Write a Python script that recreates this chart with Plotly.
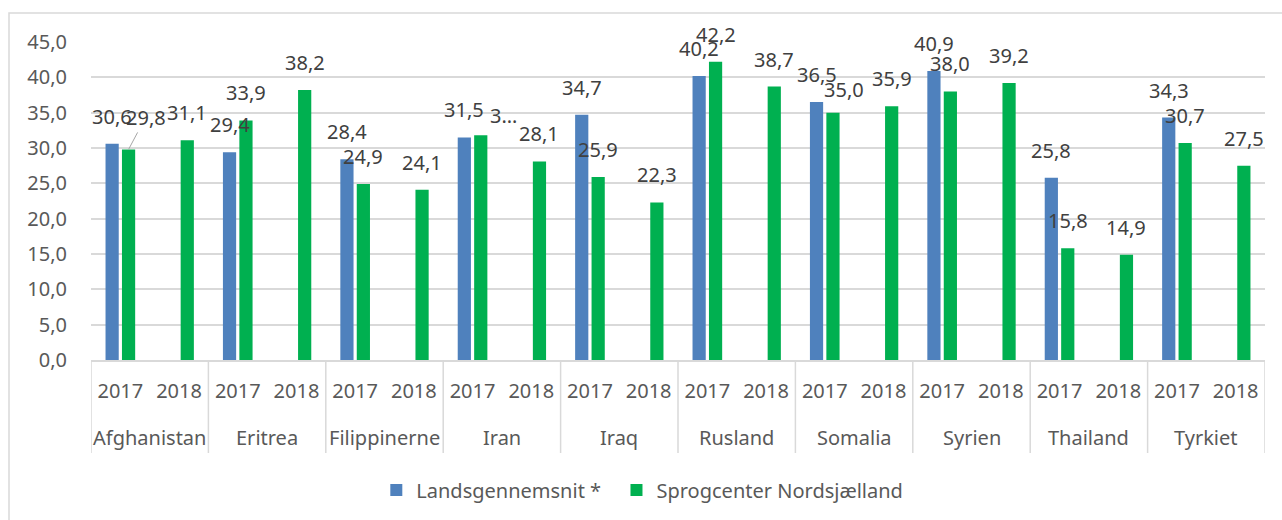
import plotly.graph_objects as go

countries = ["Afghanistan", "Eritrea", "Filippinerne", "Iran", "Iraq",
             "Rusland", "Somalia", "Syrien", "Thailand", "Tyrkiet"]
years = ["2017", "2018"]

# Landsgennemsnit * (only 2017)
lands_2017 = [30.6, 29.4, 28.4, 31.5, 34.7, 40.2, 36.5, 40.9, 25.8, 34.3]
# Sprogcenter Nordsjælland
sprog_2017 = [29.8, 33.9, 24.9, 31.8, 25.9, 42.2, 35.0, 38.0, 15.8, 30.7]
sprog_2018 = [31.1, 38.2, 24.1, 28.1, 22.3, 38.7, 35.9, 39.2, 14.9, 27.5]

# flatten into (country, year) slots
slot_x, slot_year, y_lands, y_sprog = [], [], [], []
for i, c in enumerate(countries):
    for j, yr in enumerate(years):
        slot_x.append(2 * i + j)
        slot_year.append(yr)
        if yr == "2017":
            y_lands.append(lands_2017[i])
            y_sprog.append(sprog_2017[i])
        else:
            y_lands.append(None)
            y_sprog.append(sprog_2018[i])


def fmt(v):
    return f"{v:.1f}".replace(".", ",")


FONT = "Noto Sans"
BLUE, GREEN = "#4F81BD", "#00B050"
GRID = "#D9D9D9"
LBL = "#404040"
AX = "#595959"

# plot area geometry (pixels)
L, R, T, B = 91, 17, 42, 160
W, H = 1282, 520
PW, PH = W - L - R, H - T - B

BW = 0.225     # bar width (slot units)
OFF = 0.14     # bar centre offset from slot centre

fig = go.Figure()
fig.add_trace(go.Bar(
    x=slot_x, y=y_lands, name="Landsgennemsnit *\u00a0\u00a0",
    marker=dict(color=BLUE, line=dict(width=0)),
    width=BW, offset=-OFF - BW / 2,
))
fig.add_trace(go.Bar(
    x=slot_x, y=y_sprog, name="Sprogcenter Nordsjælland",
    marker=dict(color=GREEN, line=dict(width=0)),
    width=BW, offset=OFF - BW / 2,
))

# data labels
LABEL_LIFT = 12
annotations = []
special = {  # (series, slot): (text override, xshift, extra yshift, arrow)
    ("s", 0): (None, 0, 0, (17, -32)),
    ("s", 6): ("3…", 23, -7.5, None),
    ("s", 12): (None, 11.5, -4, None),
}
for key, ys, dx in (("l", y_lands, -OFF), ("s", y_sprog, OFF)):
    for k, v in enumerate(ys):
        if v is None:
            continue
        txt, xs, ysh, arrow = special.get((key, k), (None, 0, 0, None))
        a = dict(x=slot_x[k] + dx, y=v, xref="x", yref="y",
                 text=txt if txt else fmt(v),
                 font=dict(family=FONT, size=20, color=LBL))
        if arrow:
            a.update(showarrow=True, arrowhead=0, arrowwidth=1, arrowcolor="#A6A6A6",
                     ax=arrow[0], ay=arrow[1], standoff=0)
        else:
            a.update(showarrow=False, yanchor="bottom", xanchor="center",
                     xshift=xs, yshift=LABEL_LIFT + ysh)
        annotations.append(a)

# country labels
for i, c in enumerate(countries):
    annotations.append(dict(x=2 * i + 0.5, y=(0 - 77) / PH, xref="x", yref="paper",
                            text=c, showarrow=False, yanchor="middle", xanchor="center",
                            font=dict(family=FONT, size=20, color=AX)))

shapes = []
for i in range(len(countries) + 1):
    shapes.append(dict(type="line", xref="x", yref="paper",
                       x0=2 * i - 0.5, x1=2 * i - 0.5, y0=0, y1=-93 / PH,
                       line=dict(color=GRID, width=1.5)))
shapes.append(dict(type="rect", xref="paper", yref="paper",
                   x0=(9 - L) / PW, x1=(W + 10 - L) / PW,
                   y0=(T + PH - (H + 10)) / PH, y1=(T + PH - 13) / PH,
                   line=dict(color=GRID, width=1.5), fillcolor="rgba(0,0,0,0)",
                   layer="below"))

fig.update_layout(
    width=W, height=H,
    margin=dict(l=L, r=R, t=T, b=B, autoexpand=False),
    paper_bgcolor="white", plot_bgcolor="white",
    separators=",.",
    barmode="overlay",
    font=dict(family=FONT, size=20, color=AX),
    showlegend=True,
    legend=dict(orientation="h", x=0.4696, xanchor="center", y=-130 / PH, yanchor="middle",
                font=dict(family=FONT, size=20, color=AX),
                itemwidth=30, tracegroupgap=0),
    yaxis=dict(range=[0, 45], dtick=5, tickformat=".1f", showgrid=True,
               gridcolor=GRID, gridwidth=1.5, zeroline=False, showline=False,
               ticks="", ticklabelstandoff=23, automargin=False,
               tickfont=dict(family=FONT, size=20, color=AX)),
    xaxis=dict(range=[-0.5, 2 * len(countries) - 0.5], tickmode="array",
               tickvals=slot_x, ticktext=slot_year, showgrid=False, zeroline=False,
               showline=True, linecolor=GRID, linewidth=1.5, ticks="",
               ticklabelstandoff=12, automargin=False,
               tickfont=dict(family=FONT, size=20, color=AX)),
    annotations=annotations,
    shapes=shapes,
)

fig.write_html("out.html", config={"displayModeBar": False},
               post_script="document.body.style.margin='0';document.body.style.overflow='hidden';")
